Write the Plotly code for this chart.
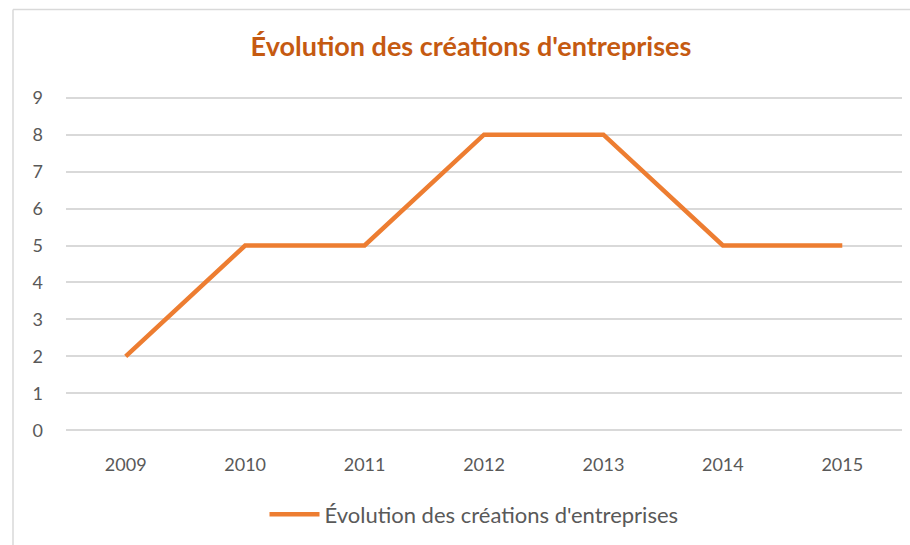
import plotly.graph_objects as go

years = ["2009", "2010", "2011", "2012", "2013", "2014", "2015"]
creations = [2, 5, 5, 8, 8, 5, 5]
y_ticks = [0, 1, 2, 3, 4, 5, 6, 7, 8, 9]

series_name = "Évolution des créations d'entreprises"
title_text = "Évolution des créations d'entreprises"

W, H = 910, 545
L, R, T, B = 66, 8, 94.3, 111.3
plot_w = W - L - R
plot_h = H - T - B


def px_x(x):
    return (x - L) / plot_w


def px_y(y):
    return (H - B - y) / plot_h


fig = go.Figure()
fig.add_trace(go.Scatter(
    x=years, y=creations, mode="lines", name=series_name,
    line=dict(color="#ED7D31", width=4.5),
))

fig.update_layout(
    width=W, height=H,
    margin=dict(l=L, r=R, t=T, b=B),
    paper_bgcolor="white", plot_bgcolor="white",
    font=dict(family="Lato, 'Open Sans', sans-serif", color="#595959", size=18),
    title=dict(
        text="<b>" + title_text + "</b>",
        x=px_x(471), xref="paper", xanchor="center",
        y=1 - 47 / H, yref="container", yanchor="middle",
        font=dict(size=27, color="#C55A11", family="Lato, 'Open Sans', sans-serif"),
    ),
    xaxis=dict(
        type="category", range=[-0.5, 6.5], showgrid=False, zeroline=False,
        showline=False, ticks="", tickfont=dict(size=18, color="#595959"),
        ticklabelstandoff=18,
    ),
    yaxis=dict(
        range=[-0.1, 9.1], tickvals=y_ticks, showgrid=True, gridcolor="#D9D9D9",
        gridwidth=1.5, zeroline=False, showline=False, ticks="",
        tickfont=dict(size=18, color="#595959"), ticklabelstandoff=22,
    ),
    showlegend=True,
    legend=dict(
        orientation="h", x=px_x(474), xanchor="center",
        y=px_y(514), yanchor="middle",
        font=dict(size=22, color="#595959"), itemwidth=50,
    ),
    shapes=[
        dict(type="line", xref="paper", yref="paper",
             x0=px_x(13), x1=px_x(W + 5), y0=px_y(10), y1=px_y(10),
             line=dict(color="#D9D9D9", width=1.5)),
        dict(type="line", xref="paper", yref="paper",
             x0=px_x(13), x1=px_x(13), y0=px_y(10), y1=px_y(H + 5),
             line=dict(color="#D9D9D9", width=1.5)),
    ],
)

fig.write_html("out.html")
